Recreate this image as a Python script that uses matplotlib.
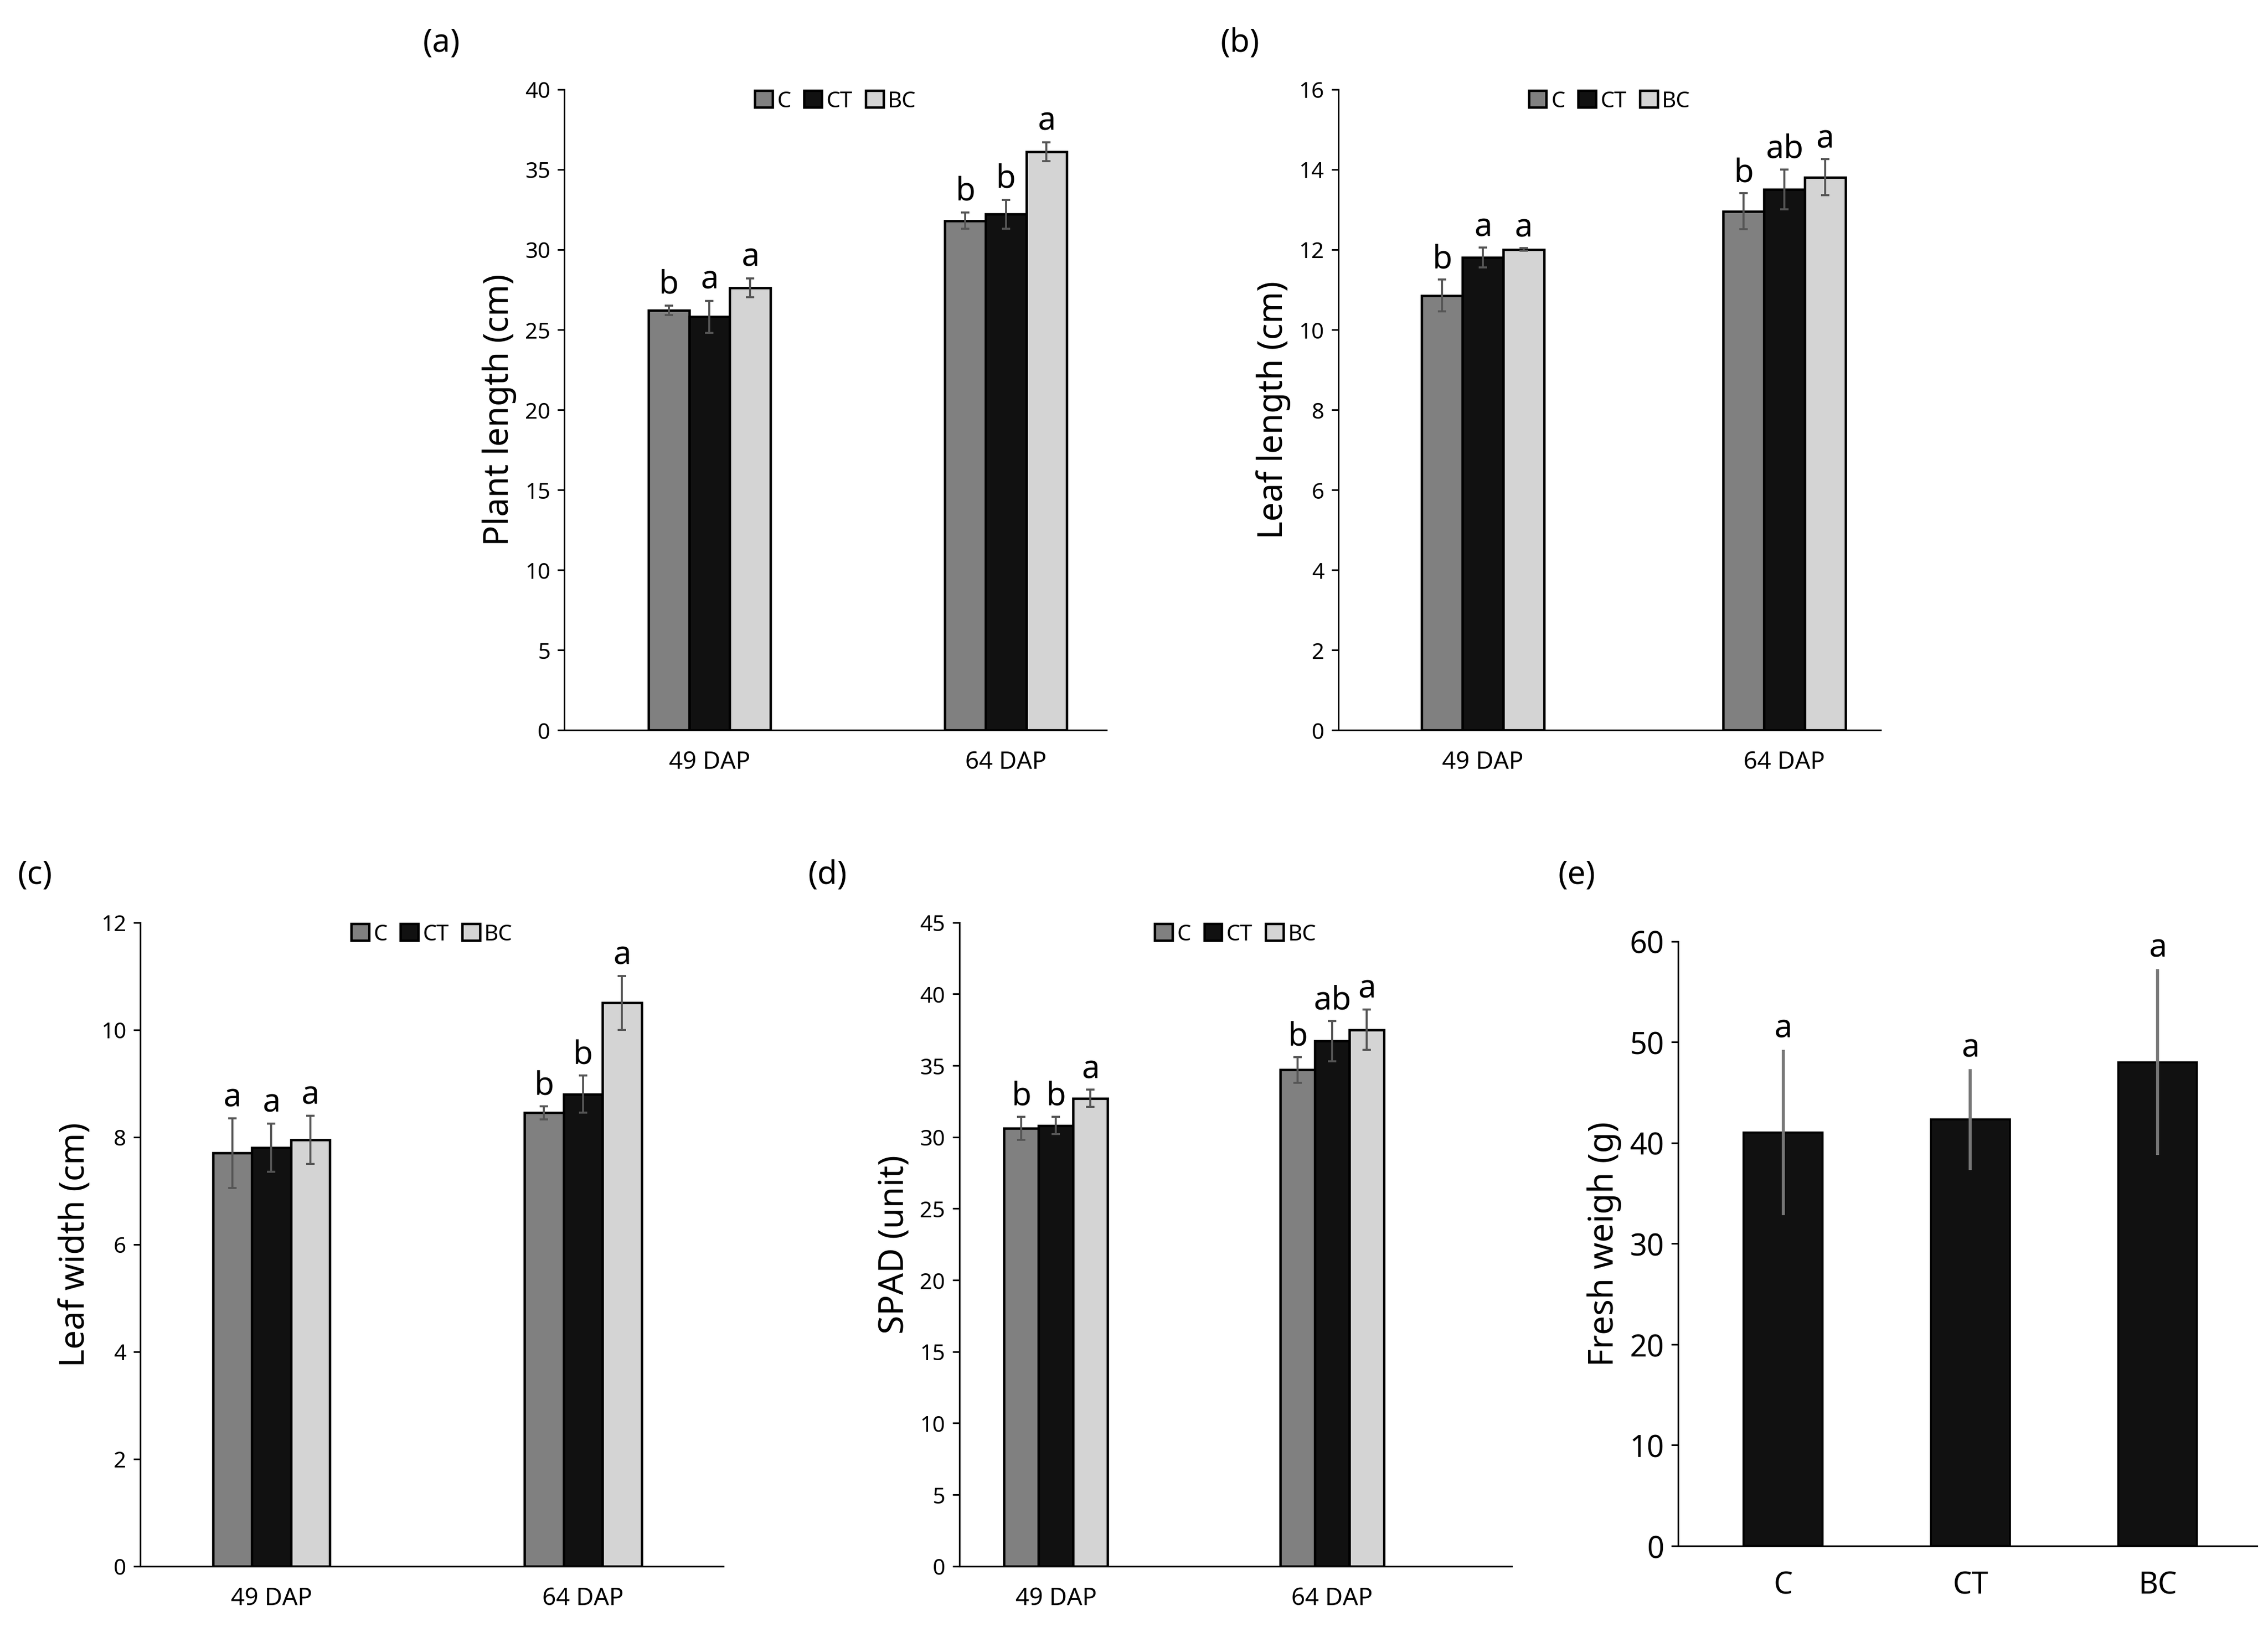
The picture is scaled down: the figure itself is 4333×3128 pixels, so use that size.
import matplotlib
matplotlib.use("Agg")
import matplotlib.pyplot as plt
import numpy as np

plt.rcParams['font.family'] = ['Noto Sans', 'DejaVu Sans']
plt.rcParams['font.weight'] = 'bold'

groups = ["49 DAP", "64 DAP"]
treatments = ["C", "CT", "BC"]
colors = ["#808080", "#111111", "#d4d4d4"]

# (a) plant length
a_mean = [[26.2, 31.8], [25.8, 32.2], [27.6, 36.1]]
a_err = [[0.3, 0.5], [1.0, 0.9], [0.6, 0.6]]
a_let = [["b", "b"], ["a", "b"], ["a", "a"]]
# (b) leaf length
b_mean = [[10.85, 12.95], [11.8, 13.5], [12.0, 13.8]]
b_err = [[0.4, 0.45], [0.25, 0.5], [0.03, 0.45]]
b_let = [["b", "b"], ["a", "ab"], ["a", "a"]]
# (c) leaf width
c_mean = [[7.7, 8.45], [7.8, 8.8], [7.95, 10.5]]
c_err = [[0.65, 0.12], [0.45, 0.35], [0.45, 0.5]]
c_let = [["a", "b"], ["a", "b"], ["a", "a"]]
# (d) SPAD
d_mean = [[30.6, 34.7], [30.8, 36.7], [32.7, 37.5]]
d_err = [[0.8, 0.9], [0.6, 1.4], [0.6, 1.4]]
d_let = [["b", "b"], ["b", "ab"], ["a", "a"]]
# (e) fresh weight
e_mean = [41.0, 42.3, 48.0]
e_err = [8.2, 5.0, 9.2]
e_let = ["a", "a", "a"]

W, H = 1568, 1132
fig = plt.figure(figsize=(15.68, 11.32), dpi=276.4)


def make_ax(x0, y0, x1, y1):
    ax = fig.add_axes([x0 / W, 1 - y1 / H, (x1 - x0) / W, (y1 - y0) / H])
    ax.spines['top'].set_visible(False)
    ax.spines['right'].set_visible(False)
    ax.tick_params(labelsize=11)
    return ax


def grouped(ax, means, errs, lets, ymax, step, xlim, bw, ylabel, off, legy):
    x = np.arange(len(groups))
    for i, t in enumerate(treatments):
        xs = x + (i - 1) * bw
        ax.bar(xs, means[i], bw, color=colors[i], edgecolor='black', linewidth=1.2, label=t)
        ax.errorbar(xs, means[i], yerr=errs[i], fmt='none', ecolor='#555555', capsize=2, elinewidth=1)
        for xx, m, e, l in zip(xs, means[i], errs[i], lets[i]):
            ax.text(xx, m + e + off, l, ha='center', va='bottom', fontsize=16, fontweight='bold')
    ax.set_xlim(*xlim)
    ax.set_ylim(0, ymax)
    ax.set_yticks(np.arange(0, ymax + step / 2, step))
    ax.set_xticks(x)
    ax.set_xticklabels(groups, fontsize=12, fontweight='bold')
    ax.tick_params(axis='x', length=0, pad=10)
    ax.set_ylabel(ylabel, fontsize=17, fontweight='bold')
    ax.legend(loc='upper center', bbox_to_anchor=(0.5, legy), ncol=3, frameon=False, fontsize=11,
              handlelength=0.8, handleheight=0.8, handletextpad=0.2, columnspacing=0.6)


ax = make_ax(390, 62, 765, 505)
grouped(ax, a_mean, a_err, a_let, 40, 5, (-0.49, 1.34), 0.137, "Plant length (cm)", 0.3, 1.03)
fig.text(305 / W, 1 - 30 / H, "(a)", fontsize=16, fontweight='bold', ha='center', va='center')

ax = make_ax(925, 62, 1300, 505)
grouped(ax, b_mean, b_err, b_let, 16, 2, (-0.48, 1.32), 0.135, "Leaf length (cm)", 0.1, 1.03)
fig.text(857 / W, 1 - 30 / H, "(b)", fontsize=16, fontweight='bold', ha='center', va='center')

ax = make_ax(97, 638, 500, 1083)
grouped(ax, c_mean, c_err, c_let, 12, 2, (-0.42, 1.45), 0.125, "Leaf width (cm)", 0.08, 1.03)
fig.text(24 / W, 1 - 605 / H, "(c)", fontsize=16, fontweight='bold', ha='center', va='center')

ax = make_ax(663, 638, 1045, 1083)
grouped(ax, d_mean, d_err, d_let, 45, 5, (-0.35, 1.65), 0.125, "SPAD (unit)", 0.3, 1.03)
fig.text(572 / W, 1 - 605 / H, "(d)", fontsize=16, fontweight='bold', ha='center', va='center')

ax = make_ax(1160, 651, 1560, 1069)
xe = np.arange(len(treatments))
ax.bar(xe, e_mean, 0.42, color='#111111', edgecolor='black')
ax.errorbar(xe, e_mean, yerr=e_err, fmt='none', ecolor='#777777', capsize=0, elinewidth=1.5)
for xx, m, e, l in zip(xe, e_mean, e_err, e_let):
    ax.text(xx, m + e + 0.5, l, ha='center', va='bottom', fontsize=16, fontweight='bold')
ax.set_xlim(-0.56, 2.53)
ax.set_ylim(0, 60)
ax.set_yticks(np.arange(0, 61, 10))
ax.set_xticks(xe)
ax.set_xticklabels(treatments, fontsize=15, fontweight='bold')
ax.tick_params(axis='y', labelsize=15)
ax.tick_params(axis='x', length=0, pad=12)
ax.set_ylabel("Fresh weigh (g)", fontsize=17, fontweight='bold')
fig.text(1090 / W, 1 - 605 / H, "(e)", fontsize=16, fontweight='bold', ha='center', va='center')

fig.savefig("out.png", dpi=276.4)
